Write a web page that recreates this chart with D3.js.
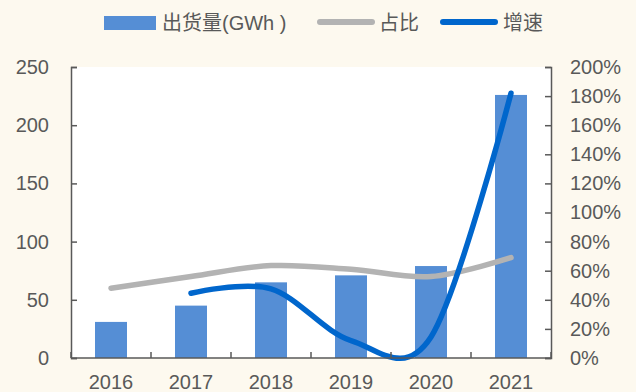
<!DOCTYPE html>
<html>
<head>
<meta charset="utf-8">
<script src="https://cdn.jsdelivr.net/npm/d3@7"></script>
<style>
  html, body { margin: 0; padding: 0; background: #FDF9EF; }
  svg { display: block; }
  text { font-family: "Liberation Sans", Arial, "Noto Sans CJK SC", sans-serif; fill: #595959; }
</style>
</head>
<body>
<svg id="chart" width="636" height="392"></svg>
<script>
// Shipment volume (GWh), share, and year-on-year growth
const years = ["2016", "2017", "2018", "2019", "2020", "2021"];
const shipments = [31, 45, 65, 71, 79, 226];
const share = [0.48, 0.56, 0.635, 0.61, 0.56, 0.69];
const growthYears = ["2017", "2018", "2019", "2020", "2021"];
const growth = [0.445, 0.475, 0.12, 0.145, 1.82];
const leftTicks = [0, 50, 100, 150, 200, 250];
const rightTicks = [0, 0.2, 0.4, 0.6, 0.8, 1.0, 1.2, 1.4, 1.6, 1.8, 2.0];
const legendLabels = ["出货量(GWh )", "占比", "增速"];

const svg = d3.select("#chart");
const plot = { left: 71, right: 551, top: 67, bottom: 358 };

const x = d3.scaleBand().domain(years).range([plot.left, plot.right])
  .paddingInner(0.6).paddingOuter(0.3);
const yL = d3.scaleLinear().domain([0, 250]).range([plot.bottom, plot.top]);
const yR = d3.scaleLinear().domain([0, 2]).range([plot.bottom, plot.top]);
const cx = d => x(d) + x.bandwidth() / 2;

// plot background
svg.append("rect")
  .attr("x", plot.left).attr("y", plot.top)
  .attr("width", plot.right - plot.left).attr("height", plot.bottom - plot.top)
  .attr("fill", "#ffffff");

// bars
svg.append("g").selectAll("rect").data(years).join("rect")
  .attr("x", d => x(d))
  .attr("y", (d, i) => yL(shipments[i]))
  .attr("width", x.bandwidth())
  .attr("height", (d, i) => plot.bottom - yL(shipments[i]))
  .attr("fill", "#558ED5");

const curve = d3.curveCardinal.tension(0);

// share line
svg.append("path")
  .datum(years.map((d, i) => [cx(d), yR(share[i])]))
  .attr("d", d3.line().curve(curve))
  .attr("fill", "none").attr("stroke", "#B3B3B3")
  .attr("stroke-width", 5.5).attr("stroke-linecap", "round");

// growth line
svg.append("path")
  .datum(growthYears.map((d, i) => [cx(d), yR(growth[i])]))
  .attr("d", d3.line().curve(curve))
  .attr("fill", "none").attr("stroke", "#0066CC")
  .attr("stroke-width", 5.5).attr("stroke-linecap", "round");

// axes
const axisColor = "#595959";
const styleAxis = g => {
  g.select(".domain").attr("stroke", axisColor).attr("stroke-width", 1.5);
  g.selectAll(".tick line").attr("stroke", axisColor).attr("stroke-width", 1.5);
  g.selectAll(".tick text").attr("fill", "#595959")
    .style("font-size", "20px");
};

svg.append("g").attr("transform", `translate(${plot.left},0)`)
  .call(d3.axisLeft(yL).tickValues(leftTicks).tickSizeInner(-6).tickSizeOuter(-6).tickPadding(22))
  .call(styleAxis);

svg.append("g").attr("transform", `translate(${plot.right},0)`)
  .call(d3.axisRight(yR).tickValues(rightTicks).tickFormat(d3.format(".0%"))
    .tickSizeInner(-6).tickSizeOuter(-6).tickPadding(19))
  .call(styleAxis);

// category axis: tick marks sit on band boundaries
const xAxis = svg.append("g").attr("transform", `translate(0,${plot.bottom})`)
  .call(d3.axisBottom(x).tickSize(0).tickPadding(17))
  .call(styleAxis);
xAxis.select(".domain").attr("d", `M${plot.left},0H${plot.right}`);
xAxis.selectAll(".bound").data(d3.range(years.length + 1)).join("line")
  .attr("class", "bound")
  .attr("x1", i => plot.left + i * x.step()).attr("x2", i => plot.left + i * x.step())
  .attr("y1", 0).attr("y2", -6)
  .attr("stroke", axisColor).attr("stroke-width", 1.5);

// legend
const legend = svg.append("g");
legend.append("rect").attr("x", 104).attr("y", 16).attr("width", 52).attr("height", 14).attr("fill", "#558ED5");
legend.append("text").attr("x", 162).attr("y", 30).style("font-size", "20px").text(legendLabels[0]);
legend.append("line").attr("x1", 320).attr("x2", 372).attr("y1", 22).attr("y2", 22)
  .attr("stroke", "#B3B3B3").attr("stroke-width", 6).attr("stroke-linecap", "round");
legend.append("text").attr("x", 379).attr("y", 30).style("font-size", "20px").text(legendLabels[1]);
legend.append("line").attr("x1", 443).attr("x2", 495).attr("y1", 22).attr("y2", 22)
  .attr("stroke", "#0066CC").attr("stroke-width", 6).attr("stroke-linecap", "round");
legend.append("text").attr("x", 503).attr("y", 30).style("font-size", "20px").text(legendLabels[2]);
</script>
</body>
</html>
